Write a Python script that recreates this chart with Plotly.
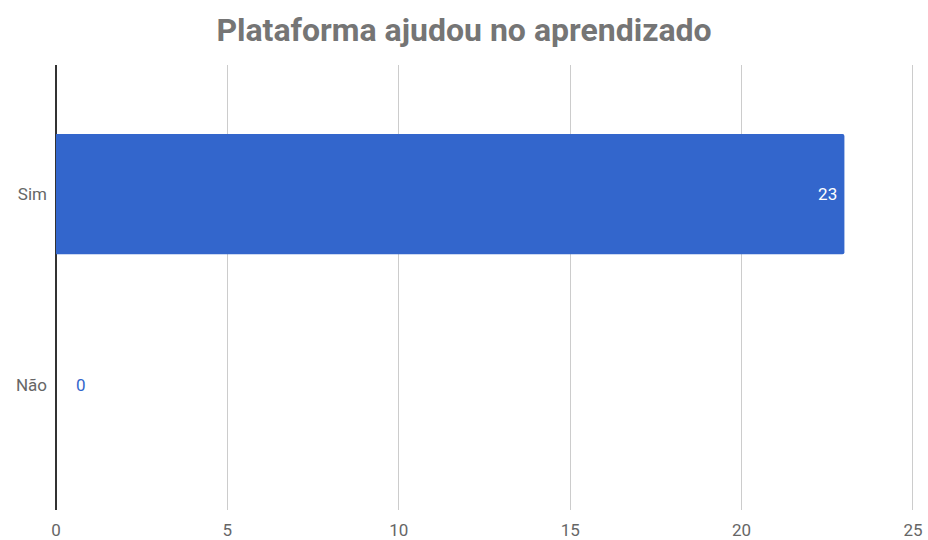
import plotly.graph_objects as go

# Survey answers: did the platform help with learning?
categories = ["Sim", "Não"]
counts = [23, 0]
x_ticks = [0, 5, 10, 15, 20, 25]

bar_color = "#3366cc"
NBSP = "\u00a0"

# value labels: inside label padded from the bar end, outside label offset from the axis
labels = [
    f"{counts[0]}{NBSP}",
    f"{NBSP * 4}{counts[1]}",
]

fig = go.Figure(
    go.Bar(
        y=categories,
        x=counts,
        orientation="h",
        width=0.63,
        marker=dict(color=bar_color, line=dict(width=0)),
        text=labels,
        textposition=["inside", "outside"],
        insidetextanchor="end",
        textfont=dict(family="Roboto", size=17, color=["#ffffff", bar_color]),
        cliponaxis=False,
        hoverinfo="skip",
    )
)

fig.update_layout(
    width=928,
    height=540,
    paper_bgcolor="white",
    plot_bgcolor="white",
    margin=dict(l=56, r=14, t=65, b=30),
    barcornerradius=2,
    showlegend=False,
    title=dict(
        text="<b>Plataforma ajudou no aprendizado</b>",
        x=0.5,
        xanchor="center",
        y=0.945,
        yanchor="middle",
        font=dict(family="Roboto", size=32, color="#757575"),
    ),
    font=dict(family="Roboto"),
)

fig.update_xaxes(
    range=[0, 25.03],
    tickvals=x_ticks,
    ticktext=[str(t) for t in x_ticks],
    showgrid=True,
    gridcolor="#cccccc",
    gridwidth=1,
    zeroline=True,
    zerolinecolor="#333333",
    zerolinewidth=1.5,
    showline=False,
    ticks="",
    ticklabelstandoff=8,
    automargin=False,
    tickfont=dict(family="Roboto", size=17, color="#666666"),
    fixedrange=True,
)

fig.update_yaxes(
    categoryorder="array",
    categoryarray=["Não", "Sim"],
    range=[-0.654, 1.676],
    showgrid=False,
    zeroline=False,
    showline=False,
    ticks="",
    ticklabelstandoff=8,
    automargin=False,
    tickfont=dict(family="Roboto", size=17, color="#666666"),
    fixedrange=True,
)

fig.write_html("out.html")
